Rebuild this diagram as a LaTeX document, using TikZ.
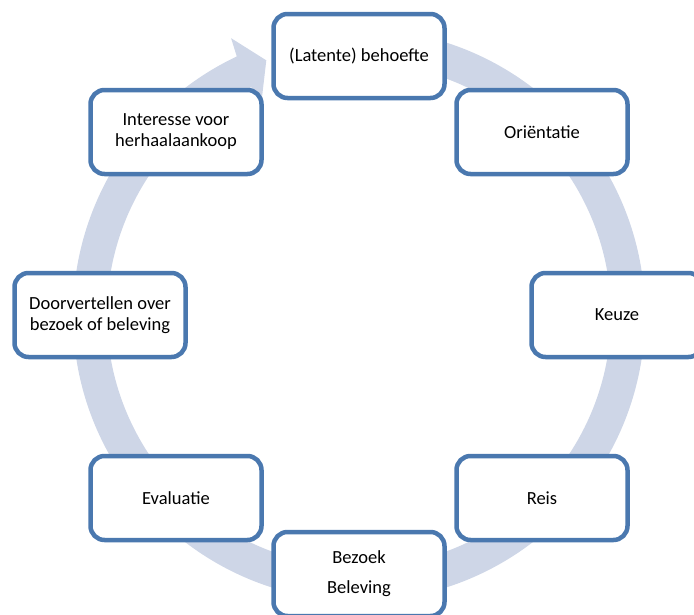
\documentclass[tikz,border=0pt]{standalone}
\usepackage{fontspec}
\setmainfont{Carlito}
\usetikzlibrary{calc}
\definecolor{boxblue}{RGB}{74,120,175}
\definecolor{bandcol}{RGB}{206,214,231}
\begin{document}
\begin{tikzpicture}[x=1pt,y=1pt,
  stage/.style={draw=boxblue, line width=4.5pt, rounded corners=14pt, fill=white,
    minimum width=171pt, minimum height=84pt, align=center, inner sep=2pt,
    font=\fontsize{18.5pt}{21pt}\selectfont}]
\useasboundingbox (0,-614) rectangle (694,0);
\coordinate (C) at (359,-315);
% circular arrow
\fill[bandcol] ($(C)+(88:286)$) arc[start angle=88, end angle=-244.7, radius=286]
  -- ($(C)+(-245.2:305)$) -- ($(C)+(-250:271)$) -- ($(C)+(-245.2:233)$)
  -- ($(C)+(-244.7:252)$) arc[start angle=-244.7, end angle=88, radius=252] -- cycle;
% stages
\node[stage] (n1) at (359,-56) {(Latente) behoefte};
\node[stage] (n2) at (542,-132) {Oriëntatie};
\node[stage] (n3) at (617,-315) {Keuze};
\node[stage] (n4) at (542,-498) {Reis};
\node[stage] (n5) at (359,-574) {Bezoek\\[9pt]Beleving};
\node[stage] (n6) at (176,-498) {Evaluatie};
\node[stage] (n7) at (100,-315) {Doorvertellen over\\bezoek of beleving};
\node[stage] (n8) at (176,-132) {Interesse voor\\herhaalaankoop};
\end{tikzpicture}
\end{document}
